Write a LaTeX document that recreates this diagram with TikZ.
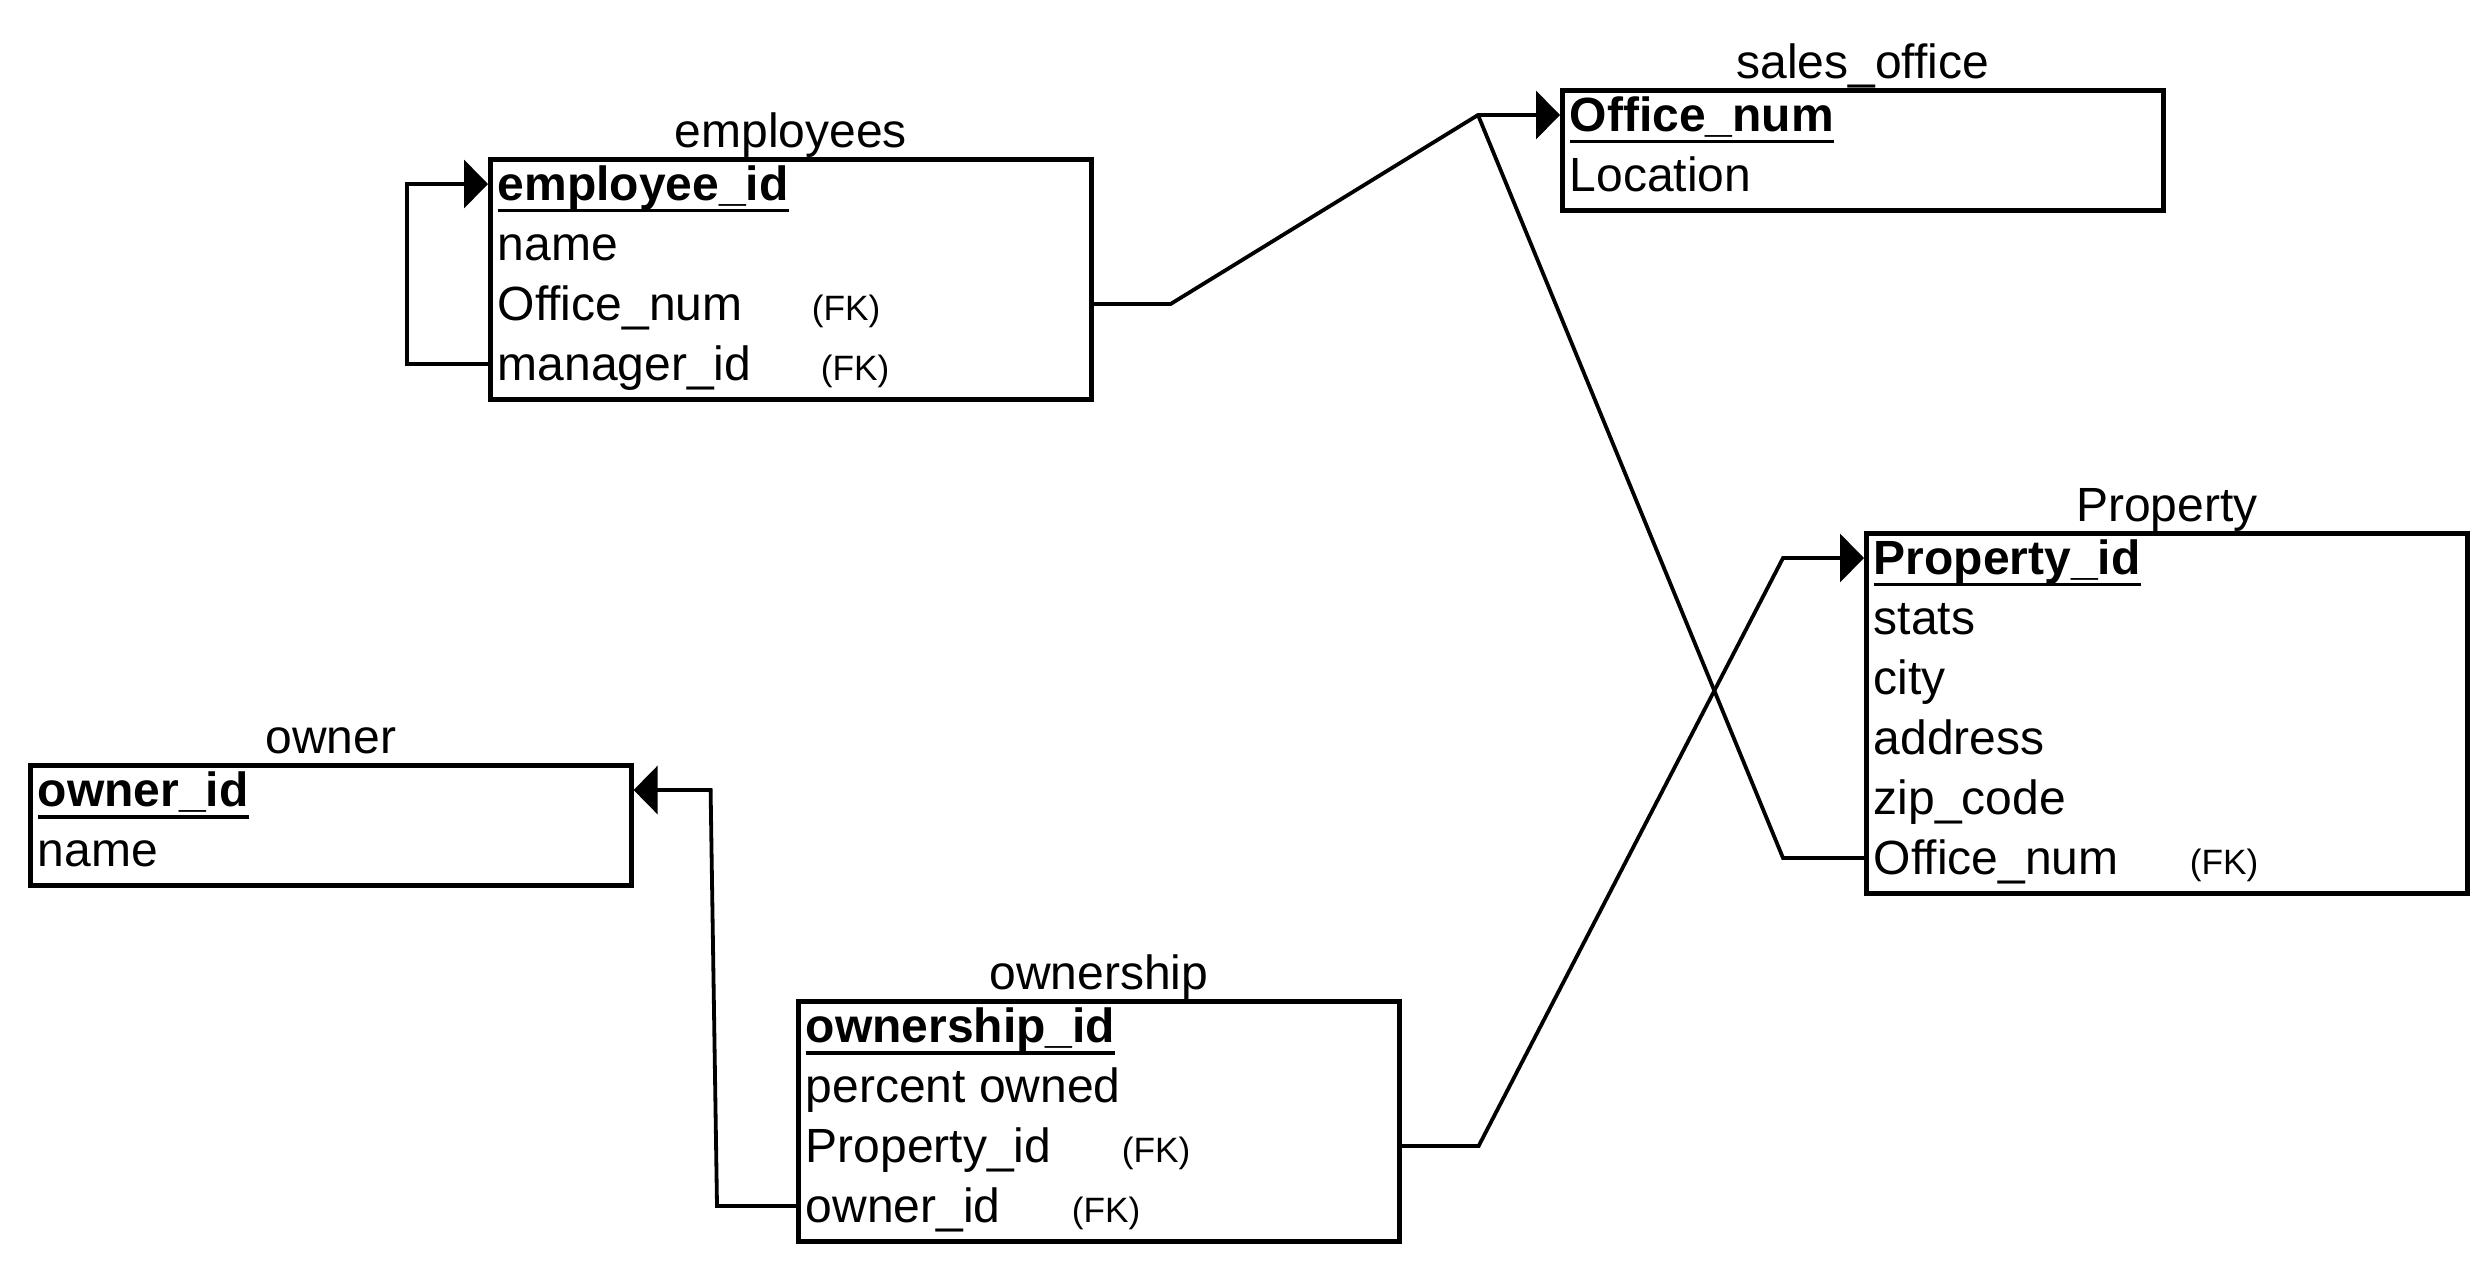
\documentclass[tikz,border=0pt]{standalone}
\usepackage{fontspec}
\setmainfont{Liberation Sans}
\usetikzlibrary{arrows.meta,positioning,calc}
\newcommand{\pkey}[1]{\setbox0\hbox{\bfseries #1}\rlap{\rule[-0.26em]{\wd0}{0.85pt}}\box0}

\begin{document}
\begin{tikzpicture}[x=0.25pt,y=-0.25pt,
  tbl/.style={draw,line width=1.15pt,anchor=north west,minimum width=150.25pt,inner sep=0pt},
  ttl/.style={anchor=base,inner sep=0pt,font=\fontsize{12}{14}\selectfont},
  field/.style={anchor=base west,inner sep=0pt,text height=10.9pt,text depth=2.9pt,
    font=\fontsize{12}{14}\selectfont},
  fkey/.style={anchor=base west,inner sep=0pt,font=\fontsize{8.8}{10}\selectfont},
  lnk/.style={line width=0.95pt},
  ref/.style={lnk,-{Triangle[length=6pt,width=12pt]}}]
\useasboundingbox (0,0) rectangle (2492,1266);
% tables
\node[tbl,minimum height=60pt] (emp) at (488,157) {};
\node[ttl] (empT) at ([yshift=2.5pt]emp.north) {employees};
\foreach \f [count=\i] in {\pkey{employee\_id},name,Office\_num,manager\_id}
  \node[field] (emp\i) at ([shift={(9,{43+60*(\i-1)})}]emp.north west) {\f};
\node[fkey] (empfk3) at ([xshift=78.5pt]emp3.base west) {(FK)};
\node[fkey] (empfk4) at ([xshift=80.75pt]emp4.base west) {(FK)};

\node[tbl,minimum height=30pt] (office) at (1560,88) {};
\node[ttl] (officeT) at ([yshift=2.5pt]office.north) {sales\_office};
\foreach \f [count=\i] in {\pkey{Office\_num},Location}
  \node[field] (office\i) at ([shift={(9,{43+60*(\i-1)})}]office.north west) {\f};

\node[tbl,minimum height=90pt] (prop) at (1864,531) {};
\node[ttl] (propT) at ([yshift=2.5pt]prop.north) {Property};
\foreach \f [count=\i] in {\pkey{Property\_id},stats,city,address,zip\_code,Office\_num}
  \node[field] (prop\i) at ([shift={(9,{43+60*(\i-1)})}]prop.north west) {\f};
\node[fkey] (propfk6) at ([xshift=79pt]prop6.base west) {(FK)};

\node[tbl,minimum height=30pt] (owner) at (28,763) {};
\node[ttl] (ownerT) at ([yshift=2.5pt]owner.north) {owner};
\foreach \f [count=\i] in {\pkey{owner\_id},name}
  \node[field] (owner\i) at ([shift={(9,{43+60*(\i-1)})}]owner.north west) {\f};

\node[tbl,minimum height=60pt] (ownship) at (796,999) {};
\node[ttl] (ownshipT) at ([yshift=2.5pt]ownship.north) {ownership};
\foreach \f [count=\i] in {\pkey{ownership\_id},percent owned,Property\_id,owner\_id}
  \node[field] (ownship\i) at ([shift={(9,{43+60*(\i-1)})}]ownship.north west) {\f};
\node[fkey] (ownshipfk3) at ([xshift=79pt]ownship3.base west) {(FK)};
\node[fkey] (ownshipfk4) at ([xshift=66.5pt]ownship4.base west) {(FK)};

% links
\coordinate (jn) at ($(office1 -| office.west)+(-82,0)$);
\draw[ref] (emp4 -| emp.west) -- ++(-81,0) |- (emp1 -| emp.west);
\draw[ref] (emp3 -| emp.east) -- ++(77,0) -- (jn) -- (office1 -| office.west);
\draw[lnk] (prop6 -| prop.west) -- ++(-81,0) -- (jn);
\draw[ref] (ownship3 -| ownship.east) -- ++(77,0)
  -- ($(prop1 -| prop.west)+(-81,0)$) -- (prop1 -| prop.west);
\draw[ref] (ownship4 -| ownship.west) -- ++(-79,0)
  -- ($(owner1 -| owner.east)+(77,0)$) -- (owner1 -| owner.east);
\end{tikzpicture}
\end{document}
